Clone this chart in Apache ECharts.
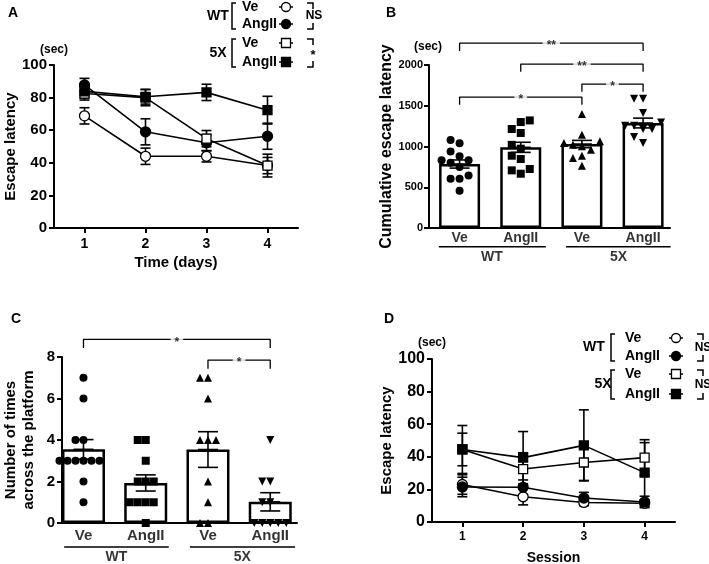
<!DOCTYPE html>
<html>
<head>
<meta charset="utf-8">
<script src="https://cdn.jsdelivr.net/npm/echarts@6/dist/echarts.min.js"></script>
<style>
html, body { margin: 0; padding: 0; background: #fff; }
#chart { width: 709px; height: 564px; }
</style>
</head>
<body>
<div id="chart"></div>
<script>
// ---- data ----
// A: escape latency per day (mean, SEM)
const days = ['1', '2', '3', '4'];
const aWtVe = [68.8, 44, 44, 38.3];
const aWtVeErr = [5, 5, 3.5, 5];
const aWtAng = [87.8, 59, 52.3, 56.3];
const aWtAngErr = [4, 8, 5, 8];
const a5xVe = [82.5, 80, 54.8, 38.3];
const a5xVeErr = [4, 5, 5, 7];
const a5xAng = [83.8, 80.5, 83.2, 72.3];
const a5xAngErr = [4, 4.5, 5, 8.5];

// B: cumulative escape latency
const groups = ['Ve', 'AngII', 'Ve', 'AngII'];
const bMean = [785, 990, 1030, 1288];
const bSem = [50, 62, 45, 60];
const bWtVe = [1080, 1040, 940, 880, 830, 830, 800, 750, 645, 605, 605, 458];
const bWtAng = [1320, 1300, 1215, 1166, 1020, 973, 887, 847, 724, 707, 666];
const b5xVe = [1399, 1145, 1063, 1043, 1020, 1002, 961, 887, 859, 765];
const b5xAng = [1587, 1587, 1411, 1296, 1254, 1254, 1215, 1215, 1117, 1043];
const bSig = [[0, 3, 2268, '**'], [1, 3, 2011, '**'], [2, 3, 1766, '*'], [0, 2, 1606, '*']];

// C: number of platform crossings
const cMean = [3.55, 1.93, 3.54, 1.02];
const cSem = [0.47, 0.39, 0.86, 0.44];
const cWtVe = [7, 6, 4, 4, 3, 3, 3, 3, 3, 3, 2, 1];
const cWtAng = [4, 4, 3, 2, 2, 2, 1, 1, 1, 1, 0];
const c5xVe = [7, 7, 6, 4, 4, 4, 2, 1, 0, 0];
const c5xAng = [4, 2, 2, 1, 1, 0, 0, 0, 0, 0];
const cSig = [[0, 3, 8.85, '*'], [2, 3, 7.85, '*']];

// D: escape latency per session
const sessions = ['1', '2', '3', '4'];
const dWtVe = [23, 15.5, 12, 11.5];
const dWtVeErr = [6, 5, 2, 2];
const dWtAng = [21.5, 21.3, 14.7, 12.3];
const dWtAngErr = [6, 4.5, 3.5, 3.5];
const d5xVe = [44.5, 32.5, 36.5, 39.5];
const d5xVeErr = [10, 10, 11, 11];
const d5xAng = [44.5, 39.5, 47, 30.3];
const d5xAngErr = [14.7, 16, 21.8, 18.4];

// ---- helpers ----
const FONT = '"Liberation Sans", Arial, Helvetica, sans-serif';
const txt = (size) => ({ color: '#000', fontWeight: 'bold', fontFamily: FONT, fontSize: size });
const axisLine = () => ({ show: true, onZero: false, lineStyle: { color: '#000', width: 2 } });
const axisTick = (show) => ({ show: show, length: 5, alignWithLabel: true, lineStyle: { color: '#000', width: 2 } });

// 散点避让排布（类似 GraphPad 的散点分布）
function swarm(values, center, xScale, yScale, minDist, step) {
	const placed = [];
	return values.slice().sort((a, b) => a - b).map((v) => {
		for (let k = 0; k < 30; k++) {
			const off = (k % 2 === 0 ? 1 : -1) * Math.ceil(k / 2) * step;
			const ok = placed.every((p) => Math.hypot(p.x - off, (p.v - v) * yScale) >= minDist);
			if (ok) {
				placed.push({ x: off, v: v });
				return [center + off / xScale, v];
			}
		}
		return [center, v];
	});
}

function errSeries(xi, yi, means, errs, cap, z, meanLine) {
	return {
		type: 'custom', xAxisIndex: xi, yAxisIndex: yi, z: z, silent: true,
		data: means.map((m, i) => [i, m, errs[i]]),
		renderItem(params, api) {
			const x = api.value(0), m = api.value(1), e = api.value(2);
			const top = api.coord([x, m + e]), bot = api.coord([x, m - e]), mid = api.coord([x, m]);
			const st = { stroke: '#000', lineWidth: 1.6 };
			const children = [
				{ type: 'line', shape: { x1: top[0], y1: top[1], x2: bot[0], y2: bot[1] }, style: st },
				{ type: 'line', shape: { x1: top[0] - cap, y1: top[1], x2: top[0] + cap, y2: top[1] }, style: st },
				{ type: 'line', shape: { x1: bot[0] - cap, y1: bot[1], x2: bot[0] + cap, y2: bot[1] }, style: st },
			];
			if (meanLine) children.push({ type: 'line', shape: { x1: mid[0] - cap, y1: mid[1], x2: mid[0] + cap, y2: mid[1] }, style: st });
			return { type: 'group', children: children };
		},
	};
}

function lineSeries(xi, yi, data, symbol, filled) {
	return {
		type: 'line', xAxisIndex: xi, yAxisIndex: yi, z: 4, silent: true,
		data: data, symbol: symbol, symbolSize: symbol === 'rect' ? 9 : 10, showSymbol: true,
		lineStyle: { color: '#000', width: 1.6 },
		itemStyle: { color: filled ? '#000' : '#fff', borderColor: '#000', borderWidth: 1.3 },
	};
}

function dotSeries(xi, yi, pts, symbol, rotate) {
	return {
		type: 'scatter', xAxisIndex: xi, yAxisIndex: yi, z: 3, silent: true, clip: false,
		data: pts, symbol: symbol, symbolSize: 8, symbolRotate: rotate || 0,
		itemStyle: { color: '#000', opacity: 1 },
	};
}

function textSeries(xi, yi, items, size, dist) {
	return {
		type: 'scatter', xAxisIndex: xi, yAxisIndex: yi, z: 6, silent: true, clip: false,
		symbolSize: 1, itemStyle: { color: 'rgba(0,0,0,0)' },
		data: items.map((it) => ({ name: it[2], value: [it[0], it[1]] })),
		label: { show: true, position: 'bottom', distance: dist, formatter: '{b}', ...txt(size) },
	};
}

function sigSeries(xi, yi, list, drop, size) {
	const out = [];
	list.forEach(([a, b, y, t]) => {
		out.push({
			type: 'line', xAxisIndex: xi, yAxisIndex: yi, z: 5, silent: true, clip: false, symbol: 'none',
			lineStyle: { color: '#000', width: 1.3 },
			data: [[a, y - drop], [a, y], [b, y], [b, y - drop]],
		});
		out.push({
			type: 'scatter', xAxisIndex: xi, yAxisIndex: yi, z: 6, silent: true, clip: false,
			symbolSize: 1, itemStyle: { color: 'rgba(0,0,0,0)' },
			data: [{ name: t, value: [(a + b) / 2, y] }],
			label: { show: true, position: 'inside', formatter: '{b}', backgroundColor: '#fff', padding: [0, 4], offset: [0, 3], ...txt(size) },
		});
	});
	return out;
}

function groupLine(xi, yi, x1, x2, y) {
	return {
		type: 'line', xAxisIndex: xi, yAxisIndex: yi, z: 5, silent: true, clip: false, symbol: 'none',
		lineStyle: { color: '#000', width: 1.5 }, data: [[x1, y], [x2, y]],
	};
}

// 图例（手绘括号）
function legendBlock(g) {
	const st = { stroke: '#000', lineWidth: 1.5, fill: null };
	const t = (x, y, s, size, align) => ({
		type: 'text', x: x, y: y,
		style: { text: s, fill: '#000', fontWeight: 'bold', fontFamily: FONT, fontSize: size, align: align || 'left', verticalAlign: 'middle' },
	});
	const top = g.y1 - 4, bot = g.y2 + 5, mid = (top + bot) / 2;
	const els = [
		t(g.gx, mid, g.label, 14, 'center'),
		{ type: 'polyline', shape: { points: [[g.bx + 4, top], [g.bx, top], [g.bx, bot], [g.bx + 4, bot]] }, style: st },
		t(g.tx, g.y1, 'Ve', 14), t(g.tx, g.y2, 'AngII', 14),
		{ type: 'polyline', shape: { points: [[g.nx - 6, top], [g.nx, top], [g.nx, top + 6]] }, style: st },
		{ type: 'polyline', shape: { points: [[g.nx, bot - 6], [g.nx, bot], [g.nx - 6, bot]] }, style: st },
		t(g.nx + g.sigDx, mid + g.sigDy, g.sig, g.sigSize, 'center'),
	];
	[g.y1, g.y2].forEach((y, i) => {
		els.push({ type: 'line', shape: { x1: g.sx - 7, y1: y, x2: g.sx + 7, y2: y }, style: st });
		const fill = i === 1 ? '#000' : '#fff';
		if (g.shape === 'circle') {
			els.push({ type: 'circle', shape: { cx: g.sx, cy: y, r: 4.5 }, style: { fill: fill, stroke: '#000', lineWidth: 1.3 } });
		} else {
			els.push({ type: 'rect', shape: { x: g.sx - 4.5, y: y - 4.5, width: 9, height: 9 }, style: { fill: fill, stroke: '#000', lineWidth: 1.3 } });
		}
	});
	return els;
}

// ---- scatter layout ----
const bXs = 61.2, bYs = 163 / 2000;
const cXs = 62.25, cYs = 166 / 8;
const bPts = [bWtVe, bWtAng, b5xVe, b5xAng].map((v, i) => swarm(v, i, bXs, bYs, 9, 9));
const cPts = [cWtVe, cWtAng, c5xVe, c5xAng].map((v, i) => swarm(v, i, cXs, cYs, 8, 8));

const panelText = (x, y, s, size) => ({
	type: 'text', x: x, y: y,
	style: { text: s, fill: '#000', fontWeight: 'bold', fontFamily: FONT, fontSize: size, align: 'center', verticalAlign: 'middle' },
});

const chart = echarts.init(document.getElementById('chart'), null, { renderer: 'canvas' });

const option = {
	animation: false,
	backgroundColor: '#fff',
	grid: [
		{ left: 54, top: 65, width: 244, height: 163, outerBoundsMode: 'none' },
		{ left: 429, top: 65, width: 241, height: 163, outerBoundsMode: 'none' },
		{ left: 62, top: 357, width: 235, height: 166, outerBoundsMode: 'none' },
		{ left: 432, top: 359, width: 243, height: 163, outerBoundsMode: 'none' },
	],
	xAxis: [
		{
			gridIndex: 0, type: 'category', data: days, boundaryGap: true,
			axisLine: axisLine(), axisTick: axisTick(true), splitLine: { show: false },
			axisLabel: { ...txt(14), margin: 9, interval: 0 },
			name: 'Time (days)', nameLocation: 'middle', nameGap: 27, nameTextStyle: txt(15),
		},
		{
			gridIndex: 1, type: 'value', min: -0.5, max: 3.44,
			axisLine: axisLine(), axisTick: { show: false }, axisLabel: { show: false }, splitLine: { show: false },
		},
		{
			gridIndex: 2, type: 'value', min: -0.345, max: 3.43,
			axisLine: axisLine(), axisTick: { show: false }, axisLabel: { show: false }, splitLine: { show: false },
		},
		{
			gridIndex: 3, type: 'category', data: sessions, boundaryGap: true,
			axisLine: axisLine(), axisTick: axisTick(true), splitLine: { show: false },
			axisLabel: { ...txt(12), margin: 9, interval: 0 },
			name: 'Session', nameLocation: 'middle', nameGap: 29, nameTextStyle: txt(14),
		},
	],
	yAxis: [
		{
			gridIndex: 0, type: 'value', min: 0, max: 100, interval: 20,
			axisLine: axisLine(), axisTick: axisTick(true), splitLine: { show: false },
			axisLabel: { ...txt(15), margin: 7 },
			name: 'Escape latency', nameLocation: 'middle', nameRotate: 90, nameGap: 29, nameTextStyle: txt(15),
		},
		{
			gridIndex: 1, type: 'value', min: 0, max: 2000, interval: 500,
			axisLine: axisLine(), axisTick: axisTick(true), splitLine: { show: false },
			axisLabel: { ...txt(11), margin: 6, formatter: (v) => String(v) },
			name: 'Cumulative escape latency', nameLocation: 'middle', nameRotate: 90, nameGap: 16, nameTextStyle: txt(16),
		},
		{
			gridIndex: 2, type: 'value', min: 0, max: 8, interval: 2,
			axisLine: axisLine(), axisTick: axisTick(true), splitLine: { show: false },
			axisLabel: { ...txt(15), margin: 7 },
			name: 'Number of times\nacross the platform', nameLocation: 'middle', nameRotate: 90, nameGap: 24,
			nameTextStyle: { ...txt(15), lineHeight: 18 },
		},
		{
			gridIndex: 3, type: 'value', min: 0, max: 100, interval: 20,
			axisLine: axisLine(), axisTick: axisTick(true), splitLine: { show: false },
			axisLabel: { ...txt(16), margin: 7 },
			name: 'Escape latency', nameLocation: 'middle', nameRotate: 90, nameGap: 28, nameTextStyle: txt(15),
		},
	],
	series: [
		// A
		errSeries(0, 0, aWtVe, aWtVeErr, 5, 2), errSeries(0, 0, aWtAng, aWtAngErr, 5, 2),
		errSeries(0, 0, a5xVe, a5xVeErr, 5, 2), errSeries(0, 0, a5xAng, a5xAngErr, 5, 2),
		lineSeries(0, 0, aWtVe, 'circle', false), lineSeries(0, 0, aWtAng, 'circle', true),
		lineSeries(0, 0, a5xVe, 'rect', false), lineSeries(0, 0, a5xAng, 'rect', true),
		// B
		{
			type: 'bar', xAxisIndex: 1, yAxisIndex: 1, barWidth: 41, z: 1, silent: true,
			data: bMean.map((m, i) => [i, m]),
			itemStyle: { color: '#fff', borderColor: '#000', borderWidth: 2.5 },
		},
		dotSeries(1, 1, bPts[0], 'circle'), dotSeries(1, 1, bPts[1], 'rect'),
		dotSeries(1, 1, bPts[2], 'triangle'), dotSeries(1, 1, bPts[3], 'triangle', 180),
		errSeries(1, 1, bMean, bSem, 10, 4, true),
		textSeries(1, 1, groups.map((g, i) => [i, 0, g]), 14, 3),
		groupLine(1, 1, -0.34, 1.41, -229), groupLine(1, 1, 1.74, 3.45, -229),
		textSeries(1, 1, [[0.53, -229, 'WT'], [2.6, -229, '5X']], 14, 3),
		...sigSeries(1, 1, bSig, 95, 12),
		// C
		{
			type: 'bar', xAxisIndex: 2, yAxisIndex: 2, barWidth: 43, z: 1, silent: true,
			data: cMean.map((m, i) => [i, m]),
			itemStyle: { color: '#fff', borderColor: '#000', borderWidth: 2.5 },
		},
		dotSeries(2, 2, cPts[0], 'circle'), dotSeries(2, 2, cPts[1], 'rect'),
		dotSeries(2, 2, cPts[2], 'triangle'), dotSeries(2, 2, cPts[3], 'triangle', 180),
		errSeries(2, 2, cMean, cSem, 10, 4, true),
		textSeries(2, 2, groups.map((g, i) => [i, 0, g]), 15, 5),
		groupLine(2, 2, -0.31, 1.37, -1.16), groupLine(2, 2, 1.71, 3.4, -1.16),
		textSeries(2, 2, [[0.53, -1.16, 'WT'], [2.55, -1.16, '5X']], 14, 3),
		...sigSeries(2, 2, cSig, 0.42, 12),
		// D
		errSeries(3, 3, dWtVe, dWtVeErr, 5, 2), errSeries(3, 3, dWtAng, dWtAngErr, 5, 2),
		errSeries(3, 3, d5xVe, d5xVeErr, 5, 2), errSeries(3, 3, d5xAng, d5xAngErr, 5, 2),
		lineSeries(3, 3, dWtVe, 'circle', false), lineSeries(3, 3, dWtAng, 'circle', true),
		lineSeries(3, 3, d5xVe, 'rect', false), lineSeries(3, 3, d5xAng, 'rect', true),
	],
	graphic: [
		panelText(13, 13, 'A', 14), panelText(391, 13, 'B', 14),
		panelText(16, 319, 'C', 14), panelText(389, 319, 'D', 14),
		panelText(54, 50, '(sec)', 12), panelText(428, 47, '(sec)', 12), panelText(432, 343, '(sec)', 12),
		...legendBlock({ label: 'WT', gx: 218, bx: 232, tx: 242, sx: 286, nx: 313, y1: 7, y2: 24, shape: 'circle', sig: 'NS', sigSize: 12, sigDx: 1, sigDy: 0 }),
		...legendBlock({ label: '5X', gx: 218, bx: 232, tx: 242, sx: 286, nx: 313, y1: 43, y2: 62, shape: 'rect', sig: '*', sigSize: 13, sigDx: 0, sigDy: 2 }),
		...legendBlock({ label: 'WT', gx: 594, bx: 611, tx: 625, sx: 676, nx: 703, y1: 338, y2: 356, shape: 'circle', sig: 'NS', sigSize: 12, sigDx: 0, sigDy: 0 }),
		...legendBlock({ label: '5X', gx: 603, bx: 611, tx: 625, sx: 676, nx: 703, y1: 374, y2: 394, shape: 'rect', sig: 'NS', sigSize: 12, sigDx: 0, sigDy: 0 }),
	],
};

chart.setOption(option);
</script>
</body>
</html>
